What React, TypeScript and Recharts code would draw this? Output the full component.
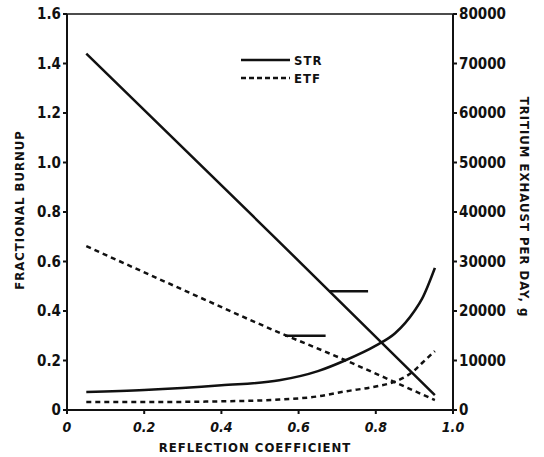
import { Line, LineChart, ReferenceLine, XAxis, YAxis } from "recharts";

// reflection coefficient sample points for the burnup curves
const burnupX = [0.05, 0.2, 0.4, 0.55, 0.65, 0.72, 0.8, 0.85, 0.9, 0.92, 0.953];
const strBurnup = [0.073, 0.081, 0.1, 0.12, 0.157, 0.2, 0.26, 0.31, 0.4, 0.45, 0.574];
const etfBurnup = [0.032, 0.032, 0.035, 0.042, 0.055, 0.075, 0.095, 0.115, 0.16, 0.19, 0.238];

// tritium exhaust, g/day (right axis)
const strExhaustX = [0.05, 0.53, 0.953];
const strExhaust = [72000, 35500, 3000];
const etfExhaustX = [0.05, 0.3, 0.53, 0.72, 0.85, 0.953];
const etfExhaust = [33100, 24300, 16300, 10100, 5600, 2000];

const xTicks = [0, 0.2, 0.4, 0.6, 0.8, 1.0];
const leftTicks = [0, 0.2, 0.4, 0.6, 0.8, 1.0, 1.2, 1.4, 1.6];
const rightTicks = [0, 10000, 20000, 30000, 40000, 50000, 60000, 70000, 80000];

// little pointer marks: [y (burnup units), x start, x end]
const pointers = [
  [0.48, 0.68, 0.78],
  [0.3, 0.565, 0.67],
];

const FONT = "'DejaVu Sans Condensed', 'DejaVu Sans', sans-serif";
const INK = "#111";

const zip = (xs: number[], ys: number[]) => xs.map((x, i) => ({ x, y: ys[i] }));

const tickStyle = { fontFamily: FONT, fontSize: 15, fontWeight: 700, fill: INK };
const titleStyle = { fontFamily: FONT, fontSize: 13, fontWeight: 700, fill: INK, letterSpacing: 1 };

export default function App() {
  return (
    <div style={{ position: "absolute", left: 0, top: 0, background: "#fff" }}>
      <LineChart width={544} height={457} margin={{ top: 14, right: 0, bottom: 17, left: 17 }}>
        <XAxis
          dataKey="x"
          type="number"
          domain={[0, 1]}
          ticks={xTicks}
          tickFormatter={(v: number) => (v === 0 ? "0" : v.toFixed(1))}
          tick={{ ...tickStyle, fontSize: 14, fontStyle: "italic", dy: 6 }}
          stroke={INK}
          strokeWidth={2}
          tickSize={4}
          height={30}
        />
        <YAxis
          yAxisId="left"
          domain={[0, 1.6]}
          ticks={leftTicks}
          tickFormatter={(v: number) => (v === 0 ? "0" : v.toFixed(1))}
          tick={tickStyle}
          stroke={INK}
          strokeWidth={2}
          tickSize={4}
          width={50}
        />
        <YAxis
          yAxisId="right"
          orientation="right"
          domain={[0, 80000]}
          ticks={rightTicks}
          tick={tickStyle}
          stroke={INK}
          strokeWidth={2}
          tickSize={4}
          width={91}
        />
        <ReferenceLine yAxisId="left" y={1.6} stroke={INK} strokeWidth={1.5} />
        {pointers.map(([y, x1, x2], i) => (
          <ReferenceLine
            key={i}
            yAxisId="left"
            segment={[{ x: x1, y }, { x: x2, y }]}
            stroke={INK}
            strokeWidth={2.5}
          />
        ))}
        <Line yAxisId="right" data={zip(strExhaustX, strExhaust)} dataKey="y" type="linear" stroke={INK} strokeWidth={2.5} dot={false} isAnimationActive={false} />
        <Line yAxisId="right" data={zip(etfExhaustX, etfExhaust)} dataKey="y" type="monotone" stroke={INK} strokeWidth={2.5} strokeDasharray="5 4" dot={false} isAnimationActive={false} />
        <Line yAxisId="left" data={zip(burnupX, strBurnup)} dataKey="y" type="monotone" stroke={INK} strokeWidth={2.5} dot={false} isAnimationActive={false} />
        <Line yAxisId="left" data={zip(burnupX, etfBurnup)} dataKey="y" type="monotone" stroke={INK} strokeWidth={2.5} strokeDasharray="5 4" dot={false} isAnimationActive={false} />
        {/* axis titles */}
        <text x={255} y={452} textAnchor="middle" style={titleStyle}>REFLECTION COEFFICIENT</text>
        <text x={24} y={210} textAnchor="middle" transform="rotate(-90, 24, 210)" style={titleStyle}>FRACTIONAL BURNUP</text>
        <text x={520} y={207} textAnchor="middle" transform="rotate(90, 520, 207)" style={titleStyle}>TRITIUM EXHAUST PER DAY, g</text>
        {/* legend */}
        <line x1={241} y1={60} x2={290} y2={60} stroke={INK} strokeWidth={2.5} />
        <text x={294} y={65} style={titleStyle}>STR</text>
        <line x1={241} y1={78} x2={290} y2={78} stroke={INK} strokeWidth={2.5} strokeDasharray="5 3" />
        <text x={294} y={83} style={titleStyle}>ETF</text>
      </LineChart>
    </div>
  );
}
